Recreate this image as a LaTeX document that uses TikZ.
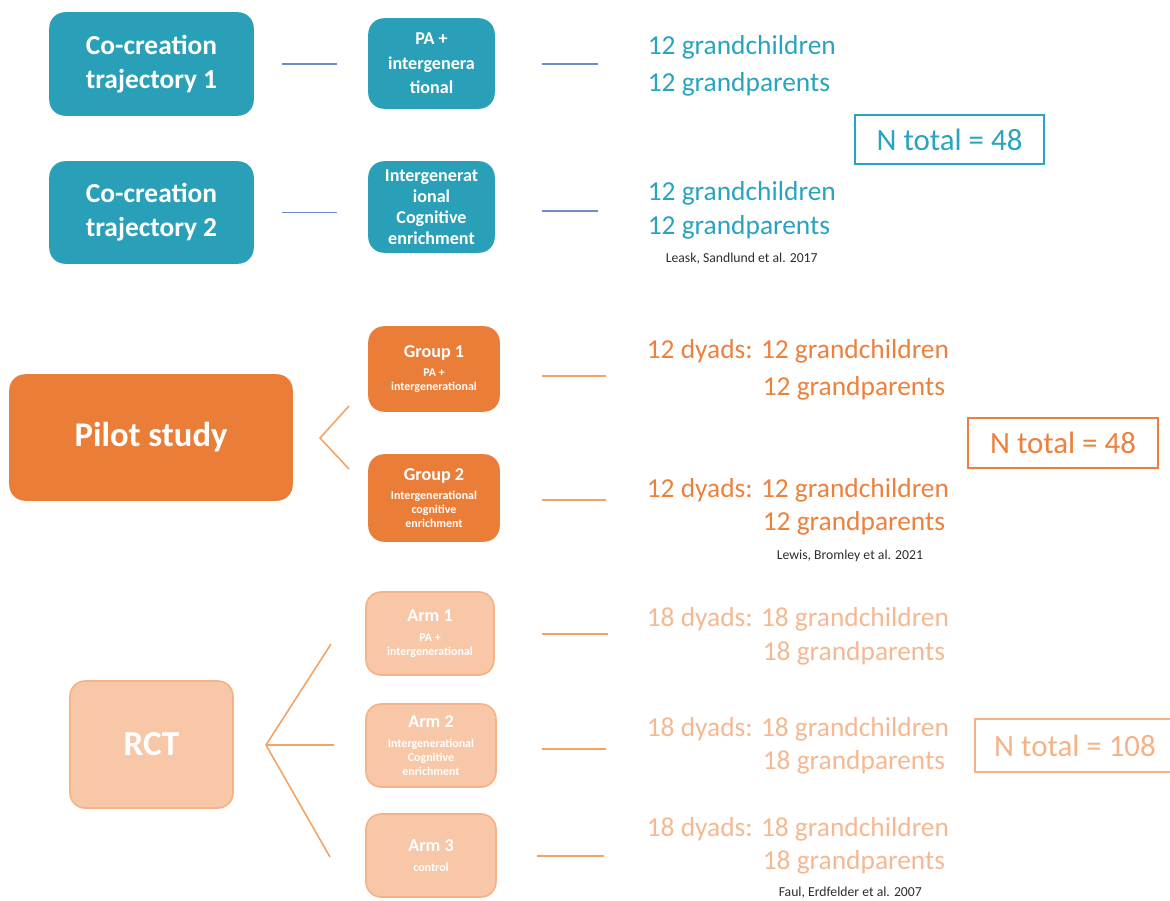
\documentclass[tikz,border=0pt]{standalone}
\usepackage{fontspec}
\setmainfont{Carlito}
\usetikzlibrary{positioning}

\definecolor{tealbox}{RGB}{41,160,183}
\definecolor{tealtext}{RGB}{40,163,192}
\definecolor{blueline}{RGB}{112,140,200}
\definecolor{orangebox}{RGB}{234,125,56}
\definecolor{orangetext}{RGB}{236,128,60}
\definecolor{orangeline}{RGB}{243,163,100}
\definecolor{peachbox}{RGB}{247,199,168}
\definecolor{peachedge}{RGB}{244,178,134}
\definecolor{peachtext}{RGB}{245,184,145}
\definecolor{citegray}{RGB}{45,45,45}

\newcommand{\boxtitle}[1]{{\fontsize{10.3}{12}\selectfont #1}\\[3pt]}

\tikzset{
  box/.style={rounded corners=0.3cm, fill=#1, draw=#1, text=white, align=center, inner sep=0pt},
  count/.style={anchor=west, inner sep=0pt, text=#1, font=\fontsize{15.6}{18}\selectfont},
  cite/.style={anchor=west, inner sep=0pt, text=citegray, font=\fontsize{7.8}{9}\selectfont},
  totalbox/.style={draw=#1, line width=1pt, text=#1, minimum width=3.8cm, minimum height=1cm, font=\fontsize{17.6}{20}\selectfont},
  big/.style={font=\bfseries\fontsize{15.6}{19.3}\selectfont},
  mid/.style={font=\bfseries\fontsize{10.3}{14}\selectfont},
  sub/.style={font=\bfseries\fontsize{6.8}{8}\selectfont}
}

\begin{document}
\begin{tikzpicture}[x=0.02cm, y=-0.02cm, line width=0.9pt]
\useasboundingbox (0,0) rectangle (1170,900);

% co-creation
\node[box=tealbox, big, minimum width=4.06cm, minimum height=2.04cm] (cc1) at (151.5,64) {Co-creation\\trajectory 1};
\node[box=tealbox, big, minimum width=4.06cm, minimum height=2.02cm] (cc2) at (151.5,212.5) {Co-creation\\trajectory 2};
\node[box=tealbox, mid, minimum width=2.5cm, minimum height=1.78cm] (pa) at (431.5,63.5) {PA +\\intergenera\\tional};
\node[box=tealbox, font=\bfseries\fontsize{10.3}{12}\selectfont, minimum width=2.5cm, minimum height=1.8cm] (ig) at (431.5,207) {Intergenerat\\ional\\Cognitive\\enrichment};

\node[count=tealtext] (kids1) at (647,47) {12 grandchildren};
\node[count=tealtext] (gp1) at (647,84) {12 grandparents};
\node[count=tealtext] (kids2) at (647,193) {12 grandchildren};
\node[count=tealtext] (gp2) at (647,227) {12 grandparents};
\node[cite] (cite1) at (665,259) {Leask, Sandlund et al. 2017};
\node[totalbox=tealtext, minimum width=3.78cm, minimum height=0.98cm] (tot1) at (949.5,139.5) {N total = 48};

\coordinate (e1) at (598,64);
\coordinate (e2) at (598,211);
\draw[blueline, shorten <=0.56cm, shorten >=0.62cm] (cc1.east) -- (cc1.east -| pa.west);
\draw[blueline, shorten <=0.56cm, shorten >=0.62cm] (cc2.east) -- (cc2.east -| ig.west);
\draw[blueline, shorten <=0.94cm] (pa.east |- e1) -- (e1);
\draw[blueline, shorten <=0.94cm] (ig.east |- e2) -- (e2);

% pilot study
\node[box=orangebox, font=\bfseries\fontsize{19.7}{22}\selectfont, minimum width=5.64cm, minimum height=2.5cm] (pilot) at (151,437.5) {Pilot study};
\node[box=orangebox, sub, minimum width=2.6cm, minimum height=1.68cm] (grp1) at (434,369)
  {\boxtitle{Group 1}PA +\\intergenerational};
\node[box=orangebox, sub, minimum width=2.6cm, minimum height=1.72cm] (grp2) at (434,498)
  {\boxtitle{Group 2}Intergenerational\\cognitive\\enrichment};

\coordinate (p1) at (349,406);
\coordinate (papex) at (320,438);
\coordinate (p2) at (349,469);
\draw[orangeline] (p1) -- (papex) -- (p2);

\node[count=orangetext] (dy1) at (646,351) {12 dyads: 12 grandchildren};
\node[count=orangetext] (gp3) at (762,388) {12 grandparents};
\node[count=orangetext] (dy2) at (646,490) {12 dyads: 12 grandchildren};
\node[count=orangetext] (gp4) at (762,523) {12 grandparents};
\node[cite] (cite2) at (776,556) {Lewis, Bromley et al. 2021};
\node[totalbox=orangetext, minimum width=3.8cm, minimum height=1cm] (tot2) at (1063,443) {N total = 48};

\coordinate (e3) at (606,376);
\coordinate (e4) at (606,500);
\draw[orangeline, shorten <=0.84cm] (grp1.east |- e3) -- (e3);
\draw[orangeline, shorten <=0.84cm] (grp2.east |- e4) -- (e4);

% RCT
\node[box=peachbox, draw=peachedge, font=\bfseries\fontsize{20}{22}\selectfont, minimum width=3.26cm, minimum height=2.54cm] (rct) at (151.5,744.5) {RCT};
\node[box=peachbox, draw=peachedge, sub, minimum width=2.56cm, minimum height=1.66cm] (arm1) at (430,633.5)
  {\boxtitle{Arm 1}PA +\\intergenerational};
\node[box=peachbox, draw=peachedge, sub, minimum width=2.6cm, minimum height=1.66cm] (arm2) at (431,745.5)
  {\boxtitle{Arm 2}Intergenerational\\Cognitive\\enrichment};
\node[box=peachbox, draw=peachedge, sub, minimum width=2.6cm, minimum height=1.66cm] (arm3) at (431,855.5)
  {\boxtitle{Arm 3}control};

\coordinate (rapex) at (266,745);
\coordinate (r1) at (331,644);
\coordinate (r2) at (334,745);
\coordinate (r3) at (330,857);
\draw[orangeline] (r1) -- (rapex) -- (r3);
\draw[orangeline] (rapex) -- (r2);

\node[count=peachtext] (dy3) at (646,619) {18 dyads: 18 grandchildren};
\node[count=peachtext] (gp5) at (762,653) {18 grandparents};
\node[count=peachtext] (dy4) at (646,729) {18 dyads: 18 grandchildren};
\node[count=peachtext] (gp6) at (762,762) {18 grandparents};
\node[count=peachtext] (dy5) at (646,829) {18 dyads: 18 grandchildren};
\node[count=peachtext] (gp7) at (762,862) {18 grandparents};
\node[cite] (cite3) at (778,893) {Faul, Erdfelder et al. 2007};
\node[totalbox=peachedge, minimum width=4cm, minimum height=1.06cm] (tot3) at (1075,745.5) {N total = 108};

\coordinate (e5) at (608,634);
\coordinate (e6) at (606,749);
\coordinate (e7) at (604,856);
\draw[orangeline, shorten <=0.94cm] (arm1.east |- e5) -- (e5);
\draw[orangeline, shorten <=0.9cm] (arm2.east |- e6) -- (e6);
\draw[orangeline, shorten <=0.8cm] (arm3.east |- e7) -- (e7);
\end{tikzpicture}
\end{document}
